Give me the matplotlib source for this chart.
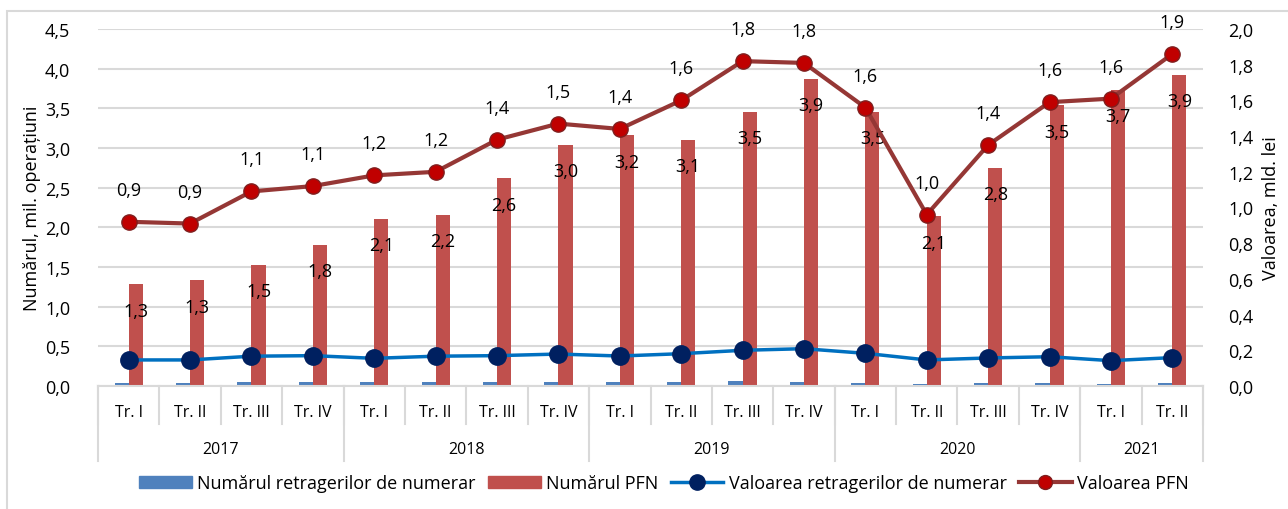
import numpy as np
import matplotlib.pyplot as plt
from matplotlib.patches import Rectangle, Patch
from matplotlib.lines import Line2D

plt.rcParams['font.family'] = ['Open Sans', 'DejaVu Sans']

quarters = ['Tr. I', 'Tr. II', 'Tr. III', 'Tr. IV'] * 4 + ['Tr. I', 'Tr. II']
years = ['2017', '2018', '2019', '2020', '2021']
year_sizes = [4, 4, 4, 4, 2]

nr_retrageri = [0.034, 0.038, 0.046, 0.050, 0.045, 0.050, 0.050, 0.050, 0.046,
                0.055, 0.063, 0.055, 0.042, 0.021, 0.034, 0.034, 0.025, 0.034]
nr_pfn = [1.28, 1.33, 1.53, 1.78, 2.11, 2.16, 2.62, 3.04, 3.16,
          3.10, 3.46, 3.87, 3.46, 2.14, 2.75, 3.54, 3.73, 3.92]
val_retrageri = [0.146, 0.146, 0.167, 0.170, 0.155, 0.167, 0.170, 0.179, 0.168,
                 0.181, 0.200, 0.209, 0.183, 0.146, 0.157, 0.164, 0.142, 0.159]
val_pfn = [0.92, 0.91, 1.09, 1.12, 1.18, 1.20, 1.38, 1.47, 1.44,
           1.60, 1.82, 1.81, 1.56, 0.96, 1.35, 1.59, 1.61, 1.86]

c_bar_blue = '#4F81BD'
c_bar_red = '#C0504D'
c_line_blue = '#0070C0'
c_mark_blue = '#002060'
c_line_red = '#953735'
c_mark_red = '#C00000'
grid_c = '#D9D9D9'
fs = 13
fs_cat = 11.5

def fmt(v):
    return f'{v:.1f}'.replace('.', ',')

fig = plt.figure(figsize=(12.88, 5.10), dpi=100)
ax = fig.add_axes([98 / 1288, 1 - 387 / 510, (1203 - 98) / 1288, 357 / 510])
ax2 = ax.twinx()

x = np.arange(len(quarters))
w = 0.23

# bars on the left axis
ax.bar(x - w / 2, nr_retrageri, w, color=c_bar_blue, zorder=2)
ax.bar(x + w / 2, nr_pfn, w, color=c_bar_red, zorder=2)
for xi, v in zip(x, nr_pfn):
    ax.annotate(fmt(v), (xi + w / 2, v), xytext=(0, -19), textcoords='offset points',
                ha='center', va='center', fontsize=fs, color='black', zorder=3)

ax.set_xlim(-0.5, len(quarters) - 0.5)
ax.set_ylim(0, 4.5)
ax.set_yticks(np.arange(0, 4.51, 0.5))
ax.set_yticklabels([fmt(t) for t in np.arange(0, 4.51, 0.5)], fontsize=fs)
ax.yaxis.grid(True, color=grid_c, lw=1.5, zorder=0)
ax.set_axisbelow(True)
ax.set_xticks([])
ax.tick_params(axis='y', length=0, pad=20)
for s in ['top', 'left', 'right']:
    ax.spines[s].set_visible(False)
ax.spines['bottom'].set_color(grid_c)
ax.spines['bottom'].set_linewidth(1.5)
ax.set_ylabel('Numărul, mil. operațiuni', fontsize=fs, labelpad=3)

# lines on the right axis
ax2.plot(x, val_retrageri, color=c_line_blue, lw=2.5, marker='o', ms=12.5,
         mfc=c_mark_blue, mec=c_mark_blue, zorder=4)
ax2.plot(x, val_pfn, color=c_line_red, lw=3, marker='o', ms=11,
         mfc=c_mark_red, mec='#7F1F1F', mew=1, zorder=5)
for xi, v in zip(x, val_pfn):
    ax2.annotate(fmt(v), (xi, v), xytext=(0, 23), textcoords='offset points',
                 ha='center', va='center', fontsize=fs, color='black')
ax2.set_ylim(0, 2.0)
ax2.set_yticks(np.arange(0, 2.01, 0.2))
ax2.set_yticklabels([fmt(t) for t in np.arange(0, 2.01, 0.2)], fontsize=fs)
ax2.tick_params(axis='y', length=0, pad=18)
for s in ['top', 'left', 'right', 'bottom']:
    ax2.spines[s].set_visible(False)
ax2.set_ylabel('Valoarea, mld. lei', fontsize=fs, labelpad=6)

# two-level category axis
tr = ax.get_xaxis_transform()
for xi, q in zip(x, quarters):
    ax.text(xi, -0.073, q, transform=tr, ha='center', va='center', fontsize=fs_cat)
for b in np.arange(-0.5, len(quarters), 1.0):
    ax.plot([b, b], [0, -0.106], transform=tr, color=grid_c, lw=1.5, clip_on=False)
start = 0
for yr, n in zip(years, year_sizes):
    ax.text(start + n / 2 - 0.5, -0.1765, yr, transform=tr, ha='center', va='center', fontsize=fs_cat)
    ax.plot([start - 0.5, start - 0.5], [0, -0.21], transform=tr, color=grid_c, lw=1.5, clip_on=False)
    start += n
ax.plot([start - 0.5, start - 0.5], [0, -0.21], transform=tr, color=grid_c, lw=1.5, clip_on=False)

# legend
handles = [
    Patch(color=c_bar_blue),
    Patch(color=c_bar_red),
    Line2D([], [], color=c_line_blue, lw=2.5, marker='o', ms=11, mfc=c_mark_blue, mec=c_mark_blue),
    Line2D([], [], color=c_line_red, lw=3, marker='o', ms=10, mfc=c_mark_red, mec='#7F1F1F'),
]
labels = ['Numărul retragerilor de numerar', 'Numărul PFN',
          'Valoarea retragerilor de numerar', 'Valoarea PFN']
fig.legend(handles, labels, loc='center', bbox_to_anchor=(664 / 1288, 1 - 484 / 510),
           ncol=4, frameon=False, fontsize=fs, handlelength=2.9, handleheight=0.65,
           handletextpad=0.3, columnspacing=0.7)

# outer chart border
fig.patches.append(Rectangle((7 / 1288, -0.1), 1.2, 1 - 12 / 510 + 0.1, transform=fig.transFigure,
                             fill=False, ec=grid_c, lw=1.5))

fig.savefig('out.png', dpi=100)
